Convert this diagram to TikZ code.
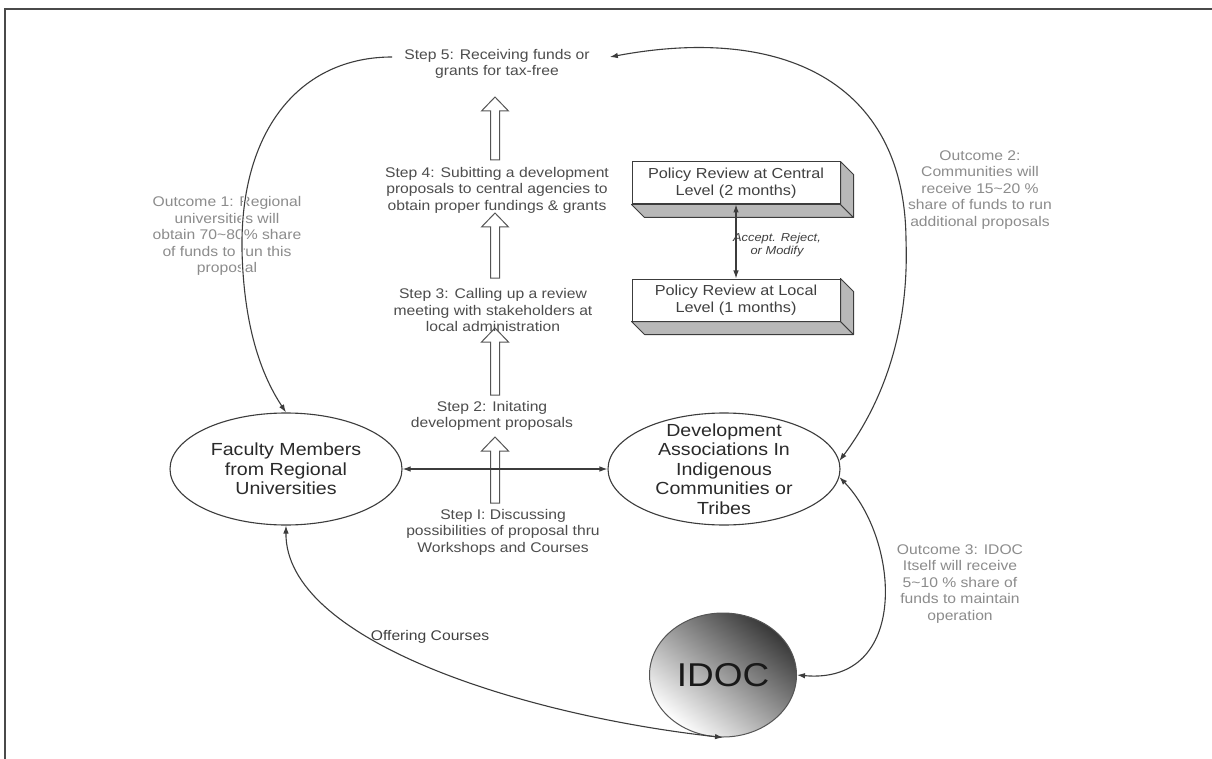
\documentclass[tikz,border=0pt]{standalone}
\usepackage{fontspec}
\setmainfont{Liberation Sans}[FakeStretch=1.12]
\usetikzlibrary{arrows.meta,calc,shapes.geometric}
\definecolor{ink}{HTML}{3C3C3C}
\definecolor{framegray}{HTML}{4A4A4A}
\definecolor{stepgray}{HTML}{4D4D4D}
\definecolor{outgray}{HTML}{8C8C8C}
\definecolor{darktext}{HTML}{2A2A2A}
\definecolor{boxtext}{HTML}{404040}
\definecolor{facegray}{HTML}{B8B8B8}
\definecolor{hollowgray}{HTML}{555555}

% block arrow pointing upwards from #1 to #2
\newcommand{\upblock}[2]{%
  \path[hollow] let \p1=(#1), \p2=(#2) in
    (\x1-4.5pt,\y1) -- (\x1-4.5pt,\y2-14pt) -- (\x1-13.5pt,\y2-14pt) -- (\x1,\y2)
    -- (\x1+13.5pt,\y2-14pt) -- (\x1+4.5pt,\y2-14pt) -- (\x1+4.5pt,\y1) -- cycle;}

\begin{document}
\begin{tikzpicture}[x=1pt,y=-1pt,
  >={Latex[length=8pt,width=5.5pt]},
  steptext/.style={text=stepgray, align=center, inner sep=0pt,
    font=\fontsize{14}{16.5}\selectfont},
  outtext/.style={text=outgray, align=center, inner sep=0pt,
    font=\fontsize{14}{16.5}\selectfont},
  party/.style={ellipse, draw=ink, line width=1.1pt, fill=white,
    minimum width=232pt, minimum height=112pt, inner sep=-15pt,
    align=center, text=darktext, font=\fontsize{17.5}{19.5}\selectfont},
  review/.style={rectangle, draw=ink, line width=1pt, fill=white,
    minimum width=208pt, minimum height=42pt, inner sep=0pt,
    align=center, text=boxtext, font=\fontsize{14.5}{17.5}\selectfont},
  depth/.style={fill=facegray, draw=ink, line width=1pt, line join=round},
  link/.style={draw=ink, line width=1.1pt},
  cased/.style={preaction={draw=white, line width=3.5pt, arrows=-, shorten >=9pt}},
  hollow/.style={draw=hollowgray, fill=white, line width=1pt},
  frame/.style={draw=framegray, line width=2pt}
]
\useasboundingbox (0,0) rectangle (1212,759);
\fill[white] (0,0) rectangle (1212,759);
\draw[frame] (5,759) -- (5,9) -- (1212,9);

% block arrows of the step column
\coordinate (h1a) at (495,160); \coordinate (h1b) at (495,97);
\coordinate (h2a) at (495,278); \coordinate (h2b) at (495,213);
\coordinate (h3a) at (495,395); \coordinate (h3b) at (495,328);
\coordinate (h4a) at (495,503); \coordinate (h4b) at (495,437);
\upblock{h1a}{h1b}
\upblock{h2a}{h2b}
\upblock{h3a}{h3b}
\upblock{h4a}{h4b}

% steps
\node[steptext] (s5) at (497,64) {Step 5: Receiving funds or\\grants for tax-free};
\node[steptext] (s4) at (497,190) {Step 4: Subitting a development\\proposals to central agencies to\\obtain proper fundings \& grants};
\node[steptext] (s3) at (493,310) {Step 3: Calling up a review\\meeting with stakeholders at\\local administration};
\node[steptext] (s2) at (492,416) {Step 2: Initating\\development proposals};
\node[steptext] (s1) at (503,532) {Step I: Discussing\\possibilities of proposal thru\\Workshops and Courses};

% outcomes
\node[outtext] (o1) at (227,236) {Outcome 1: Regional\\universities will\\obtain 70\textasciitilde80\% share\\of funds to run this\\proposal};
\node[outtext] (o2) at (980,190) {Outcome 2:\\Communities will\\receive 15\textasciitilde20 \%\\share of funds to run\\additional proposals};
\node[outtext] (o3) at (960,584) {Outcome 3: IDOC\\Itself will receive\\5\textasciitilde10 \% share of\\funds to maintain\\operation};
\node[text=boxtext, font=\fontsize{14}{16.5}\selectfont, inner sep=0pt] (offer) at (430,637) {Offering Courses};

% policy review boxes (3-D)
\node[review] (cen) at (736,183) {Policy Review at Central\\Level (2 months)};
\node[review] (loc) at (736,300) {Policy Review at Local\\Level (1 months)};
\foreach \b in {cen,loc}{
  \path[depth] (\b.south west) -- (\b.south east) -- ($(\b.south east)+(13,13)$)
    -- ($(\b.south west)+(13,13)$) -- cycle;
  \path[depth] (\b.north east) -- ($(\b.north east)+(13,13)$)
    -- ($(\b.south east)+(13,13)$) -- (\b.south east) -- cycle;
}
\node[text=boxtext, align=center, inner sep=0pt,
  font=\itshape\fontsize{11.5}{13.5}\selectfont] (verdict) at (777,245) {Accept. Reject,\\or Modify};
\draw[link,<->] (cen.south) -- (loc.north);

% parties
\node[party] (fac) at (286,469) {Faculty Members\\from Regional\\Universities};
\node[party] (dev) at (724,469) {Development\\Associations In\\Indigenous\\Communities or\\Tribes};
\node[ellipse, draw=hollowgray, line width=1pt, minimum width=147pt, minimum height=124pt,
  inner sep=0pt, top color=black!78, middle color=black!30, bottom color=white,
  shading angle=-40, text=black!90, font=\fontsize{33}{36}\selectfont] (idoc) at (723,675) {IDOC};

% connectors
\draw[link,cased,->] ([shift={(-12,-7)}]s5.west) .. controls (300,57) and (240,130) .. (242,250)
  .. controls (244,340) and (268,385) .. (fac.north);
\draw[link,cased,<->] ([shift={(20,-7)}]s5.east) .. controls (780,25) and (905,80) .. (906,240)
  .. controls (910,350) and (870,420) .. (dev.4);
\draw[link,<->] (idoc.east) .. controls (910,685) and (900,540) .. (dev.-4);
\draw[link,<->] (fac.south) .. controls (285,640) and (520,715) .. (idoc.south);
\draw[link,<->] (fac.east) -- (dev.west);
\end{tikzpicture}
\end{document}
